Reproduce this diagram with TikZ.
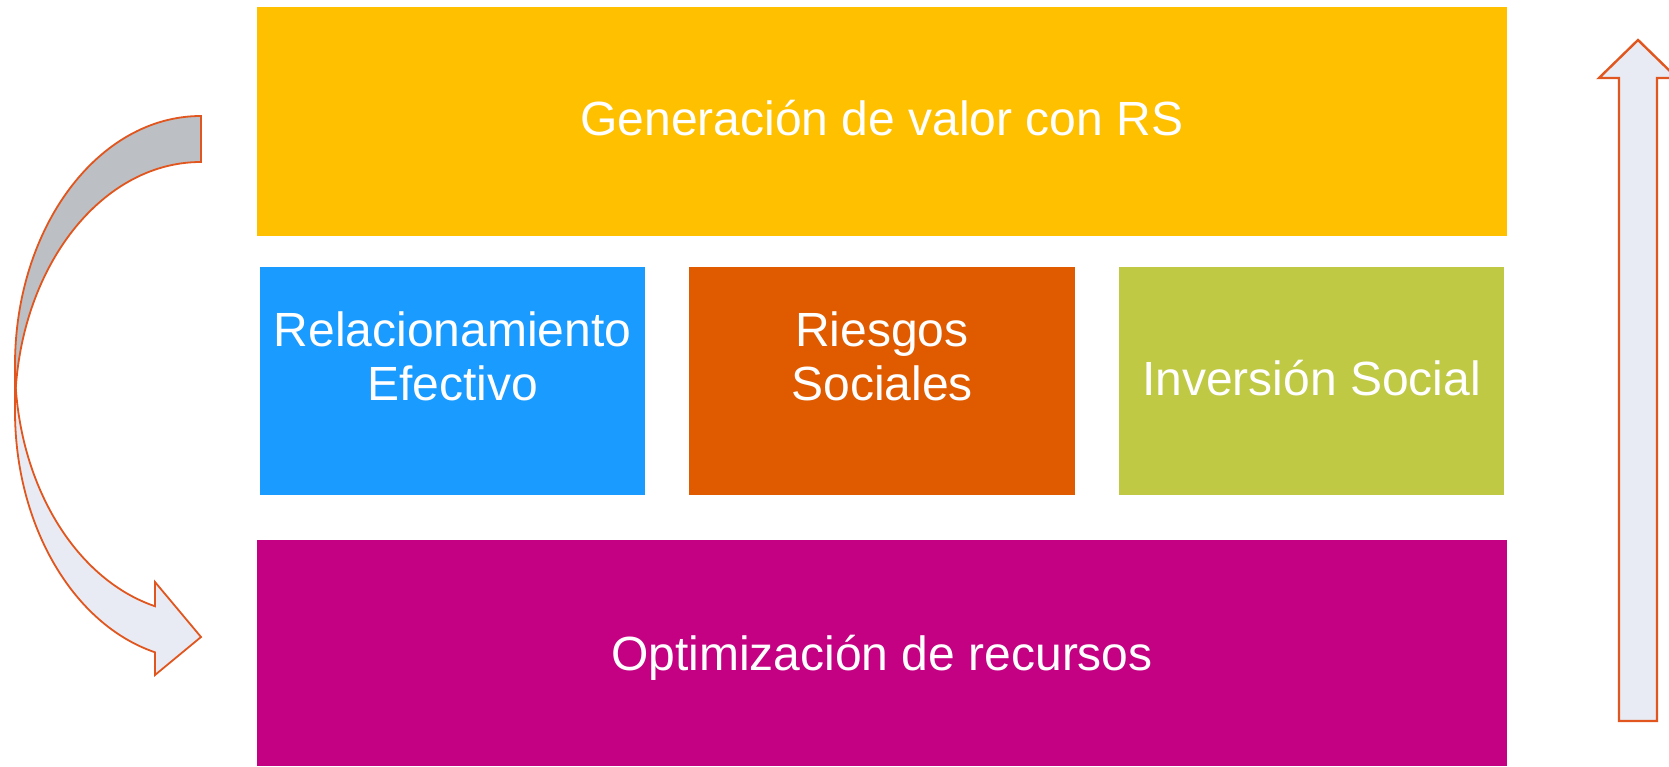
\documentclass[tikz,border=0pt]{standalone}
\usepackage{fontspec}
\setmainfont{Liberation Sans}
\definecolor{cyellow}{HTML}{FFC000}
\definecolor{cblue}{HTML}{199BFF}
\definecolor{corange}{HTML}{E05A00}
\definecolor{cgreen}{HTML}{BFC944}
\definecolor{cmag}{HTML}{C40083}
\definecolor{aline}{HTML}{E0561E}
\definecolor{agrey}{HTML}{BCBFC4}
\definecolor{alight}{HTML}{E8EBF3}
\begin{document}
\begin{tikzpicture}[x=1pt,y=1pt,
  box/.style={draw=none,inner sep=0pt,outer sep=0pt,anchor=south west},
  lbl/.style={text=white,inner sep=0pt,align=center,font=\fontsize{48}{54}\selectfont},
  arrowline/.style={draw=aline,line width=1.8pt,line join=miter}]
\useasboundingbox (0,0) rectangle (1669,766);
\clip (0,0) rectangle (1669,766);
% boxes
\node[box,fill=cyellow,minimum width=1250pt,minimum height=229pt] (top) at (257,530) {};
\node[box,fill=cblue,minimum width=385pt,minimum height=228pt] (rel) at (260,271) {};
\node[box,fill=corange,minimum width=386pt,minimum height=228pt] (rie) at (689,271) {};
\node[box,fill=cgreen,minimum width=385pt,minimum height=228pt] (inv) at (1119,271) {};
\node[box,fill=cmag,minimum width=1250pt,minimum height=226pt] (opt) at (257,0) {};
% labels
\node[lbl,anchor=base] (ttop) at (882,630) {Generación de valor con RS};
\node[lbl] (trel) at (452.5,409.5) {Relacionamiento\\Efectivo};
\node[lbl] (trie) at (882,409.5) {Riesgos\\Sociales};
\node[lbl,anchor=base] (tinv) at (1311.5,370) {Inversión Social};
\node[lbl,anchor=base] (topt) at (882,96) {Optimización de recursos};
% curved arrow (left)
\coordinate (cTop) at (201,650);
\coordinate (cL) at (15,401);
\draw[arrowline,fill=agrey] (cTop) arc[start angle=90,end angle=180,x radius=186,y radius=249]
  -- (15,355) arc[start angle=180,end angle=90,x radius=186,y radius=249] -- cycle;
\draw[arrowline,fill=alight] (cL) arc[start angle=180,end angle=255.68,x radius=186,y radius=249]
  -- (155,184) -- (201,129) -- (155,91) -- (155,113.7)
  arc[start angle=255.68,end angle=180,x radius=186,y radius=249] -- cycle;
% straight arrow (right)
\draw[draw=aline,line width=2.4pt,fill=alight] (1619,45) -- (1619,688) -- (1599,688) -- (1638,726)
  -- (1677,688) -- (1657,688) -- (1657,45) -- cycle;
\end{tikzpicture}
\end{document}
